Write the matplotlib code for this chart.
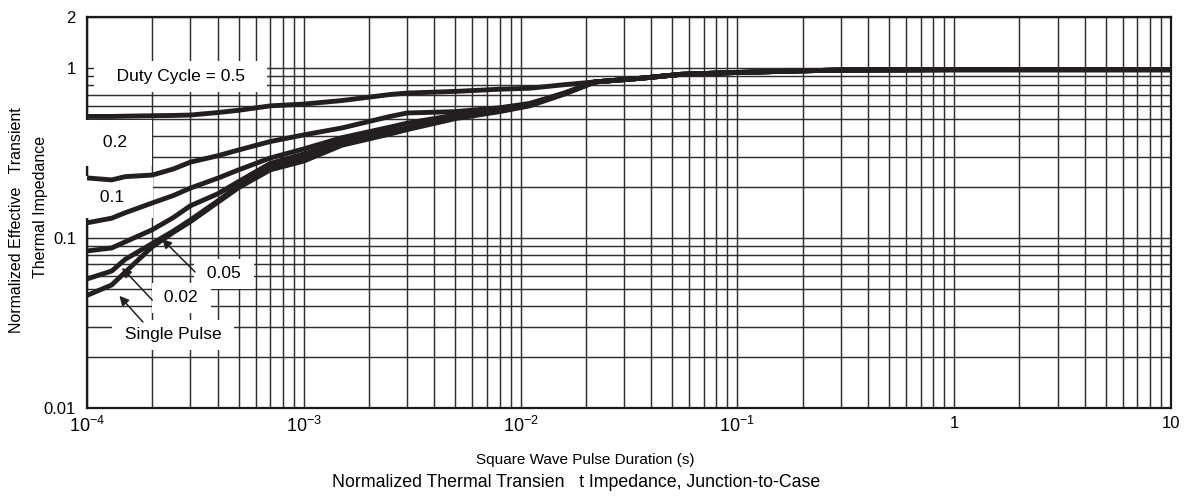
import numpy as np
import matplotlib.pyplot as plt
from matplotlib.ticker import FixedLocator, NullFormatter

plt.rcParams['font.family'] = ['Liberation Sans', 'DejaVu Sans']
plt.rcParams['mathtext.fontset'] = 'custom'
plt.rcParams['mathtext.rm'] = 'Liberation Sans'

# pulse duration (s)
pulse_t = [1e-4, 1.3e-4, 1.5e-4, 2e-4, 2.5e-4, 3e-4, 4e-4, 5e-4, 7e-4, 1e-3,
           1.5e-3, 2.5e-3, 3e-3, 5e-3, 8e-3, 1.1e-2, 1.6e-2, 2.2e-2, 3.5e-2,
           5.5e-2, 9e-2, 0.2, 0.3, 1, 10]

# normalized transient impedance for each duty cycle
z_d50 = [0.52, 0.52, 0.522, 0.525, 0.527, 0.53, 0.548, 0.565, 0.60, 0.615,
         0.645, 0.70, 0.714, 0.73, 0.752, 0.762, 0.80, 0.83, 0.87,
         0.92, 0.94, 0.965, 0.975, 0.98, 0.98]
z_d20 = [0.226, 0.22, 0.23, 0.235, 0.255, 0.28, 0.305, 0.33, 0.37, 0.405,
         0.445, 0.52, 0.545, 0.555, 0.585, 0.62, 0.715, 0.83, 0.87,
         0.92, 0.94, 0.965, 0.975, 0.98, 0.98]
z_d10 = [0.123, 0.131, 0.141, 0.161, 0.178, 0.197, 0.225, 0.252, 0.296, 0.335,
         0.39, 0.45, 0.475, 0.53, 0.575, 0.615, 0.715, 0.83, 0.87,
         0.92, 0.94, 0.965, 0.975, 0.98, 0.98]
z_d05 = [0.084, 0.0875, 0.095, 0.112, 0.132, 0.155, 0.182, 0.215, 0.275, 0.313,
         0.37, 0.425, 0.445, 0.515, 0.565, 0.61, 0.71, 0.83, 0.87,
         0.92, 0.94, 0.965, 0.975, 0.98, 0.98]
z_d02 = [0.0575, 0.064, 0.075, 0.093, 0.11, 0.128, 0.165, 0.205, 0.262, 0.296,
         0.36, 0.418, 0.44, 0.51, 0.56, 0.605, 0.71, 0.83, 0.87,
         0.92, 0.94, 0.965, 0.975, 0.98, 0.98]
z_single = [0.046, 0.053, 0.063, 0.089, 0.108, 0.125, 0.162, 0.198, 0.252, 0.284,
            0.352, 0.41, 0.435, 0.505, 0.555, 0.60, 0.705, 0.83, 0.87,
            0.92, 0.94, 0.965, 0.975, 0.98, 0.98]

curves = [z_d50, z_d20, z_d10, z_d05, z_d02, z_single]

x_ticks = [1e-4, 1e-3, 1e-2, 1e-1, 1, 10]
x_labels = [r'$\mathregular{10^{-4}}$', r'$\mathregular{10^{-3}}$',
            r'$\mathregular{10^{-2}}$', r'$\mathregular{10^{-1}}$', '1', '10']
y_ticks = [0.01, 0.1, 1, 2]
y_labels = ['0.01', '0.1', '1', '2']

fig = plt.figure(figsize=(11.87, 5.01), dpi=100)
ax = fig.add_axes([0.0733, 0.1856, 0.9132, 0.7804])
ax.set_xscale('log')
ax.set_yscale('log')
ax.set_xlim(1e-4, 10)
ax.set_ylim(0.01, 2)

ax.set_xticks(x_ticks)
ax.set_xticklabels(x_labels)
ax.set_yticks(y_ticks)
ax.set_yticklabels(y_labels)
xminor = [m * 10.0 ** e for e in range(-4, 1) for m in range(2, 10)]
yminor = [m * 10.0 ** e for e in (-2, -1) for m in range(2, 10)]
ax.xaxis.set_minor_locator(FixedLocator(xminor))
ax.yaxis.set_minor_locator(FixedLocator(yminor))
ax.xaxis.set_minor_formatter(NullFormatter())
ax.yaxis.set_minor_formatter(NullFormatter())
ax.tick_params(which='both', length=0, labelsize=12)
ax.tick_params(axis='x', pad=6)
ax.tick_params(axis='y', pad=8)
for lbl in ax.get_xticklabels()[:4]:
    lbl.set_fontsize(13)

ax.grid(which='both', color='#2e2e2e', lw=1.05, zorder=1)
ax.set_axisbelow(True)
for s in ax.spines.values():
    s.set_linewidth(1.6)
    s.set_color('#1a1a1a')

for z in curves:
    ax.plot(pulse_t, z, color='#231f20', lw=3.5, solid_capstyle='butt', zorder=4)

box = dict(boxstyle='square,pad=0.45', fc='white', ec='none')
ax.text(2.7e-4, 0.89, '   Duty Cycle = 0.5   ', fontsize=12.5, ha='center', va='center',
        bbox=box, zorder=3)
ax.text(1.38e-4, 0.363, ' 0.2  ', fontsize=12.5, ha='center', va='center',
        bbox=dict(boxstyle='square,pad=0.9', fc='white', ec='none'), zorder=3)
ax.text(1.38e-4, 0.1745, ' 0.1   ', fontsize=12.5, ha='center', va='center',
        bbox=dict(boxstyle='square,pad=0.8', fc='white', ec='none'), zorder=3)
ax.text(4.29e-4, 0.0615, ' 0.05 ', fontsize=12.5, ha='center', va='center',
        bbox=box, zorder=3)
ax.text(2.72e-4, 0.0445, ' 0.02 ', fontsize=12.5, ha='center', va='center',
        bbox=box, zorder=3)
ax.text(2.49e-4, 0.0269, ' Single Pulse ', fontsize=12.5, ha='center', va='center',
        bbox=box, zorder=3)

arrow = dict(arrowstyle='-|>', color='#231f20', lw=1.1, mutation_scale=14,
             shrinkA=0, shrinkB=0)
ax.annotate('', xy=(2.22e-4, 0.0988), xytext=(3.15e-4, 0.0632), arrowprops=arrow, zorder=5)
ax.annotate('', xy=(1.45e-4, 0.0668), xytext=(2.0e-4, 0.0432), arrowprops=arrow, zorder=5)
ax.annotate('', xy=(1.41e-4, 0.0457), xytext=(1.81e-4, 0.0321), arrowprops=arrow, zorder=5)

fig.text(0.0143, 0.561, 'Normalized Effective   Transient', rotation=90,
         ha='center', va='center', fontsize=11.5)
fig.text(0.0337, 0.587, 'Thermal Impedance', rotation=90,
         ha='center', va='center', fontsize=11.5)
fig.text(0.4928, 0.082, 'Square Wave Pulse Duration (s)', ha='center', va='center', fontsize=11)
fig.text(0.485, 0.036, 'Normalized Thermal Transien   t Impedance, Junction-to-Case',
         ha='center', va='center', fontsize=12.8)

fig.savefig('out.png', dpi=100)
